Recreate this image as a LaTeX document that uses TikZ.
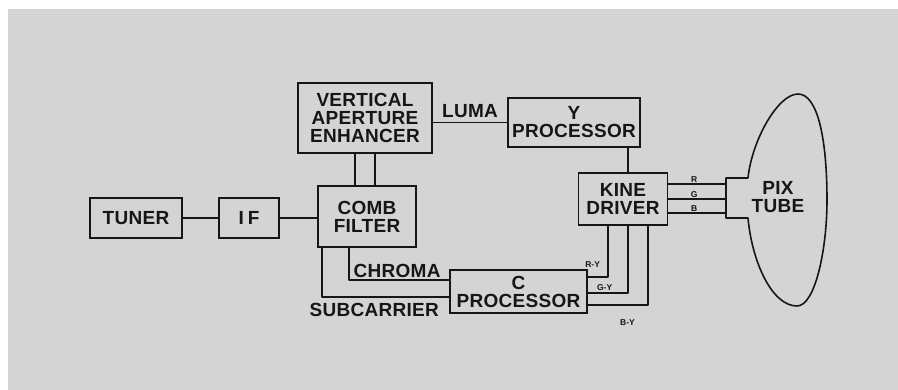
\documentclass[tikz,border=0pt]{standalone}
\usepackage{fontspec}
\setmainfont{Liberation Sans}
\newfontfamily\letrero[LetterSpace=1.5]{Liberation Sans}
\usetikzlibrary{positioning,calc}
\definecolor{papel}{RGB}{212,212,212}
\definecolor{tinta}{RGB}{22,22,22}
\tikzset{
  bloque/.style={
    rectangle, draw=tinta, line width=1.6pt, align=center,
    text=tinta, font=\letrero\bfseries\fontsize{19}{18}\selectfont, inner sep=2pt},
  linea/.style={draw=tinta, line width=1.6pt, line join=round},
  etiq/.style={font=\letrero\bfseries\fontsize{19}{18}\selectfont, text=tinta,
    align=center, inner sep=1pt},
  chica/.style={font=\bfseries\fontsize{8.5}{8.5}\selectfont, text=tinta,
    inner sep=1pt}
}

\begin{document}
\begin{tikzpicture}[x=1pt,y=-1pt]

\fill[white] (0,0) rectangle (898,390);
\fill[papel] (8,9) rectangle (898,390);
\useasboundingbox (0,0) rectangle (898,390);

\node[bloque, minimum width=92pt, minimum height=40pt] (tuner) at (136,218) {TUNER};
\node[bloque, minimum width=60pt, minimum height=40pt] (if) at (249,218) {I\kern4pt F};
\node[bloque, minimum width=98pt, minimum height=61pt] (comb) at (367,216.5) {COMB\\FILTER};
\node[bloque, minimum width=134pt, minimum height=70pt] (vae) at (365,118)
  {VERTICAL\\APERTURE\\ENHANCER};
\node[bloque, minimum width=132pt, minimum height=49pt] (yproc) at (574,122.5) {Y\\PROCESSOR};
\node[bloque, minimum width=89pt, minimum height=52pt] (kine) at (623,199) {KINE\\DRIVER};
\node[bloque, minimum width=137pt, minimum height=43pt] (cproc) at (518.5,291.5) {C\\PROCESSOR};

% picture tube
\coordinate (cuelloA) at (726,178);
\coordinate (cuelloB) at (726,218);
\draw[linea] (748,178) -- (cuelloA) -- (cuelloB) -- (748,218)
  .. controls (752,262) and (772,306) .. (797,306)
  .. controls (815,306) and (827,250) .. (827,200)
  .. controls (827,140) and (818,94) .. (798,94)
  .. controls (778,94) and (752,140) .. (748,178);
\node[etiq] (pix) at (778,197) {PIX\\TUBE};

% front end
\draw[linea] (tuner) -- (if);
\draw[linea] (if.east) -- (if.east -| comb.west);

% comb filter <-> aperture enhancer
\draw[linea] ([xshift=-10pt]vae.south) -- ([xshift=-10pt]vae.south |- comb.north);
\draw[linea] ([xshift=10pt]vae.south) -- ([xshift=10pt]vae.south |- comb.north);

% luma path
\draw[linea] (vae.east |- yproc.west) -- node[etiq, above=3pt] {LUMA} (yproc.west);
\draw[linea] ([xshift=5pt]kine.north) -- ([xshift=5pt]kine.north |- yproc.south);

% R, G, B to the tube
\foreach \dy/\col in {15/R, 0/G, -14/B}
  \draw[linea] ([yshift=\dy pt]kine.east) -- ([yshift=\dy pt]kine.east -| cuelloA)
    node[chica, pos=.45, above=0pt] {\col};

% chroma path
\draw[linea] ([xshift=-18pt]comb.south) |- ([yshift=11.5pt]cproc.west)
  node[etiq, pos=.74, above=1pt] {CHROMA};
\draw[linea] ([xshift=5pt]comb.south west) |- ([yshift=-5.5pt]cproc.west)
  node[etiq, pos=.705, below=4pt] {SUBCARRIER};

% colour difference signals
\draw[linea] ([yshift=14.5pt]cproc.east) -| ([xshift=-15pt]kine.south)
  node[chica, pos=.12, above=8pt] {R-Y};
\draw[linea] ([yshift=-1.5pt]cproc.east) -| ([xshift=5pt]kine.south)
  node[chica, pos=.21, above=0.5pt] {G-Y};
\draw[linea] ([yshift=-13.5pt]cproc.east) -| ([xshift=25pt]kine.south)
  node[chica, pos=.33, below=13pt] {B-Y};

\end{tikzpicture}
\end{document}
